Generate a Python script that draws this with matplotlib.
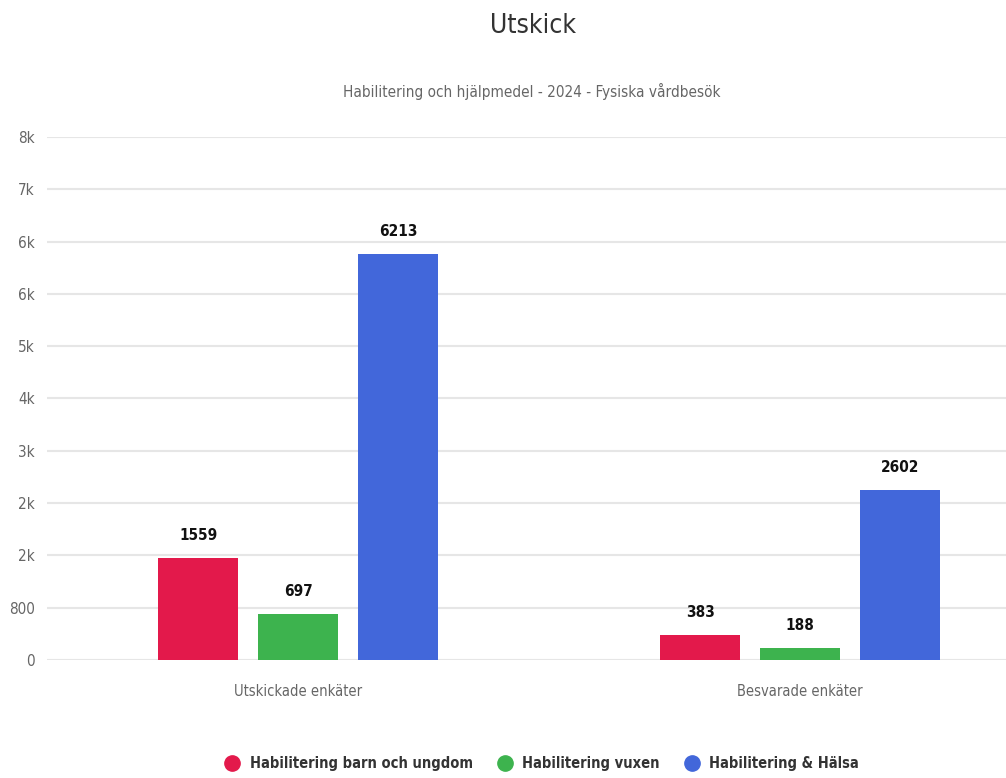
import numpy as np
import matplotlib
matplotlib.use("Agg")
import matplotlib.pyplot as plt
from matplotlib.ticker import FuncFormatter, MultipleLocator
from matplotlib.lines import Line2D

categories = ["Utskickade enkäter", "Besvarade enkäter"]
series_names = ["Habilitering barn och ungdom", "Habilitering vuxen", "Habilitering & Hälsa"]
barn_ungdom = [1559, 383]
vuxen = [697, 188]
halsa = [6213, 2602]
colors = ["#E3194B", "#3DB34E", "#4267DA"]

plt.rcParams["font.family"] = ["DejaVu Sans"]
plt.rcParams["font.stretch"] = "condensed"

fig = plt.figure(figsize=(10.06, 7.78), dpi=100)
ax = fig.add_axes([0.047, 0.1517, 0.953, 0.6722])

x = np.arange(len(categories))
w = 0.159
step = 0.199
for i, vals in enumerate([barn_ungdom, vuxen, halsa]):
    pos = x + (i - 1) * step
    bars = ax.bar(pos, vals, width=w, color=colors[i], zorder=3)
    for b, v in zip(bars, vals):
        ax.text(b.get_x() + w / 2, v + 230, str(v), ha="center", va="bottom",
                fontsize=11, fontweight="bold", color="#111111", zorder=4)

ax.set_xlim(-0.5, 1.41)
ax.set_ylim(0, 8000)
ax.yaxis.set_major_locator(MultipleLocator(800))


def fmt(v, _):
    if v < 1000:
        return str(int(v))
    return f"{round(v / 1000)}k"


ax.yaxis.set_major_formatter(FuncFormatter(fmt))
ax.grid(axis="y", color="#e6e6e6", linewidth=1.5, zorder=0)
for s in ax.spines.values():
    s.set_visible(False)
ax.tick_params(axis="y", length=0, pad=9, labelsize=11, labelcolor="#666666")
ax.tick_params(axis="x", length=0, pad=17, labelsize=10.5, labelcolor="#666666")
ax.set_xticks(x)
ax.set_xticklabels(categories)

fig.text(0.53, 0.966, "Utskick", ha="center", va="center", fontsize=19, color="#333333")
fig.text(0.529, 0.883, "Habilitering och hjälpmedel - 2024 - Fysiska vårdbesök",
         ha="center", va="center", fontsize=11, color="#666666")

handles = [Line2D([], [], marker="o", linestyle="none", markersize=11,
                  markerfacecolor=c, markeredgecolor=c) for c in colors]
leg = fig.legend(handles, series_names, loc="center", bbox_to_anchor=(0.535, 0.019),
                 ncol=3, frameon=False, handletextpad=0.2, columnspacing=1.2,
                 prop={"size": 10.5, "weight": "bold", "stretch": "condensed"})
for t in leg.get_texts():
    t.set_color("#333333")

fig.savefig("out.png", dpi=100)
